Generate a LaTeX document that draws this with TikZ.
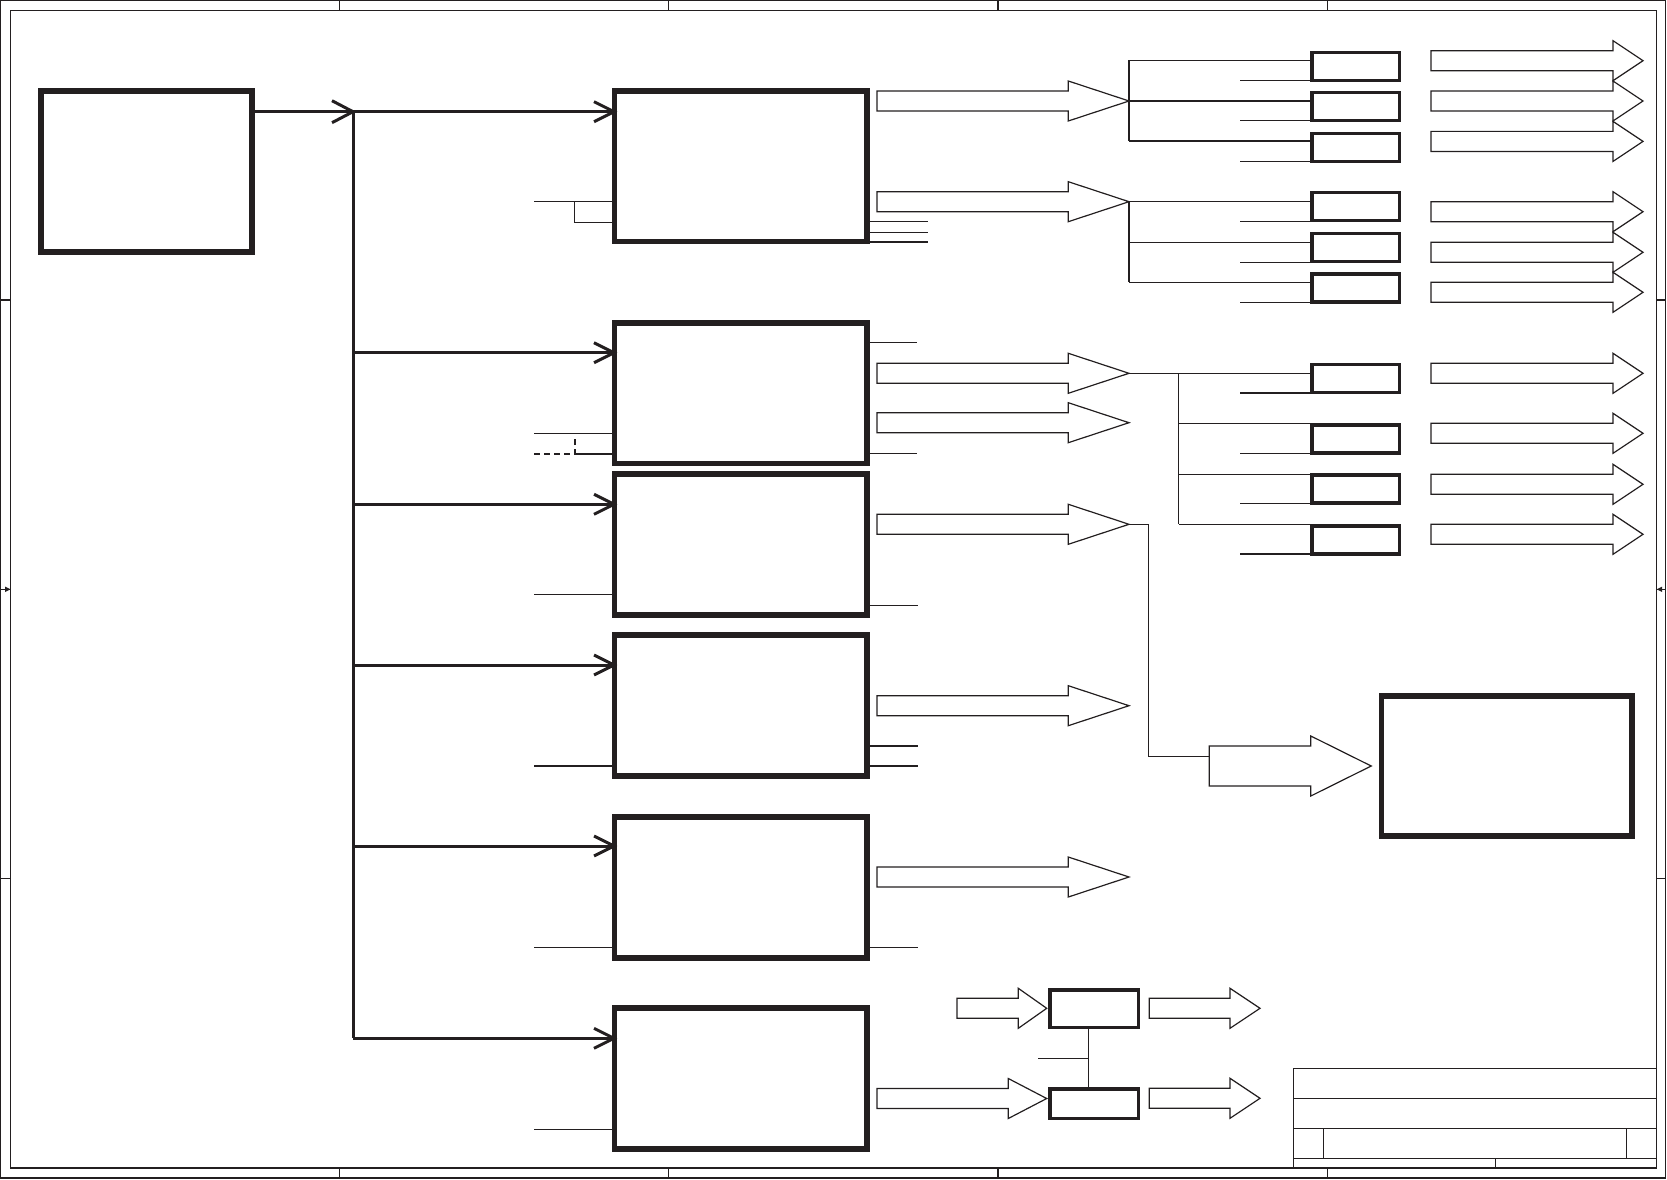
\documentclass[tikz,border=0pt]{standalone}
\usetikzlibrary{calc}
\definecolor{ink}{RGB}{35,31,32}
\newcommand\fatarr[6]{% x0, yc, xhead, xtip, body half, head half
  \draw[fatline] (#1,#2-#5) -- (#3,#2-#5) -- (#3,#2-#6) -- (#4,#2) -- (#3,#2+#6) -- (#3,#2+#5) -- (#1,#2+#5) -- cycle;}
\newcommand\chevr[4]{% tip x, tip y, back, half
  \draw[chevline] (#1-#3,#2-#4) -- (#1,#2) -- (#1-#3,#2+#4);}
\begin{document}
\begin{tikzpicture}[x=1pt,y=-1pt,
  bigbox/.style={draw=ink, line width=5.7pt, rectangle, inner sep=0pt, outer sep=0pt},
  smallbox/.style={draw=ink, line width=3.4pt, rectangle, inner sep=0pt, outer sep=0pt, minimum width=87.5pt, minimum height=28pt},
  wire/.style={draw=ink, line width=1.3pt},
  fatline/.style={draw=ink, line width=1.2pt, line join=miter},
  busline/.style={draw=ink, line width=3pt},
  chevline/.style={draw=ink, line width=3pt, line join=miter},
  frameline/.style={draw=ink, line width=1.2pt}]
\useasboundingbox (0,0) rectangle (1667,1180);

% ---------- sheet frame ----------
\draw[frameline] (0.6,0.6) rectangle (1665.8,1178);
\draw[frameline] (10.5,10.5) rectangle (1656.7,1168);
\foreach \x in {339.3,668.7,998,1327.3}{
  \draw[frameline] (\x,0.6) -- (\x,10.5);
  \draw[frameline] (\x,1168) -- (\x,1178);}
\foreach \y in {299.9,878.7}{
  \draw[frameline] (0.6,\y) -- (10.5,\y);
  \draw[frameline] (1656.7,\y) -- (1665.8,\y);}
\draw[frameline] (0.6,589.3) -- (10.5,589.3);
\fill[ink] (10.5,589.3) -- (5,586.6) -- (5,592) -- cycle;
\draw[frameline] (1656.7,589.3) -- (1665.8,589.3);
\fill[ink] (1656.7,589.3) -- (1662.2,586.6) -- (1662.2,592) -- cycle;

% ---------- title block ----------
\draw[frameline] (1293.3,1168) -- (1293.3,1068.3) -- (1656.7,1068.3);
\foreach \y in {1098.3,1128.3,1158.3}{
  \draw[frameline] (1293.3,\y) -- (1656.7,\y);}
\draw[frameline] (1323.3,1128.3) -- (1323.3,1158.3);
\draw[frameline] (1626.7,1128.3) -- (1626.7,1158.3);
\draw[frameline] (1495.7,1158.3) -- (1495.7,1168);

% ---------- main blocks ----------
\node[bigbox, minimum width=211pt, minimum height=161pt] (M) at (146.5,171.5) {};
\node[bigbox, minimum width=252.3pt, minimum height=150.5pt] (B1) at (740.65,166.25) {};
\node[bigbox, minimum width=252.3pt, minimum height=140.5pt] (B2) at (740.65,393.25) {};
\node[bigbox, minimum width=252.3pt, minimum height=140.7pt] (B3) at (740.65,544.35) {};
\node[bigbox, minimum width=252.3pt, minimum height=140.5pt] (B4) at (740.65,705.55) {};
\node[bigbox, minimum width=252.3pt, minimum height=140.8pt] (B5) at (740.65,887.4) {};
\node[bigbox, minimum width=252.3pt, minimum height=140.6pt] (B6) at (740.65,1078.5) {};
\node[bigbox, minimum width=250.8pt, minimum height=140pt] (R) at (1506.8,766.3) {};

% ---------- bus from M ----------
\coordinate (J) at (353,111.7);
\coordinate (JB) at (353,1038.3);
\draw[busline] (M.east |- J) -- (J -| B1.west);
\chevr{353}{111.7}{21}{11}
\draw[busline] (J) -- (JB);
\foreach \n/\y in {2/352.7,3/504.3,4/665,5/846,6/1038.3}{
  \coordinate (br\n) at (353,\y);
  \draw[busline] (br\n) -- (br\n -| B\n.west);}
\chevr{614}{111.7}{20}{10}
\foreach \y in {352.7,504.3,665,846,1038.3}{\chevr{614}{\y}{20}{10}}

% ---------- left-side inputs ----------
\coordinate (i1a) at (534,201.3);
\coordinate (i1j) at (574.3,201.3);
\coordinate (i1b) at (574.3,222.3);
\draw[wire] (i1a) -- (i1a -| B1.west);
\draw[wire] (i1j) -- (i1b) -- (i1b -| B1.west);
\coordinate (i2a) at (534,433.3);
\coordinate (i2b) at (534,454);
\coordinate (i2j) at (575,454);
\draw[wire] (i2a) -- (i2a -| B2.west);
\draw[wire, dash pattern=on 6pt off 4pt] (i2b) -- (i2j) -- (575,435.5);
\draw[wire] (i2j) -- (i2j -| B2.west);
\foreach \n/\y in {3/594.3,4/766,5/947.3,6/1129.3}{
  \coordinate (in\n) at (534,\y);
  \draw[wire] (in\n) -- (in\n -| B\n.west);}

% ---------- right-side stubs ----------
\foreach \y in {221.5,232.3,242}{
  \coordinate (o) at (927.5,\y);
  \draw[wire] (o -| B1.east) -- (o);}
\foreach \y in {342.3,453.3}{
  \coordinate (o) at (917.3,\y);
  \draw[wire] (o -| B2.east) -- (o);}
\coordinate (o3) at (917.7,605.3);
\draw[wire] (o3 -| B3.east) -- (o3);
\foreach \y in {746,766}{
  \coordinate (o) at (917.7,\y);
  \draw[wire] (o -| B4.east) -- (o);}
\coordinate (o5) at (917.7,947.3);
\draw[wire] (o5 -| B5.east) -- (o5);

% ---------- block arrows from column ----------
\foreach \y in {101,201.7,373.3,422.7,524.3,705.7,877}{\fatarr{877}{\y}{1068.3}{1129}{10}{20}}
\coordinate (a1) at (1129,101);
\coordinate (a2) at (1129,201.7);
\coordinate (a3) at (1129,373.3);
\coordinate (a5) at (1129,524.3);

% ---------- small boxes ----------
\foreach \n/\y in {11/66.4,12/106.4,13/147.4,21/206.7,22/247.4,23/288,31/378.4,32/439,33/489,34/540}{
  \node[smallbox] (S\n) at (1355.75,\y) {};}

% group 1
\coordinate (g1t) at (1129,60.3);
\coordinate (g1b) at (1129,141);
\draw[wire] (g1t) -- (g1b);
\draw[wire] (g1t) -- (g1t -| S11.west);
\draw[wire] (a1) -- (a1 -| S12.west);
\draw[wire] (g1b) -- (g1b -| S13.west);
% group 2
\coordinate (g2m) at (1129,242.3);
\coordinate (g2b) at (1129,282.3);
\draw[wire] (a2) -- (g2b);
\draw[wire] (a2) -- (a2 -| S21.west);
\draw[wire] (g2m) -- (g2m -| S22.west);
\draw[wire] (g2b) -- (g2b -| S23.west);
% group 3
\coordinate (g3t) at (1178.8,373.3);
\coordinate (g3b) at (1178.8,524.3);
\draw[wire] (a3) -- (a3 -| S31.west);
\draw[wire] (g3t) -- (g3b);
\foreach \n/\y in {32/423.3,33/474.3,34/524.3}{
  \coordinate (g) at (1178.8,\y);
  \draw[wire] (g) -- (g -| S\n.west);}
% lower short lines
\foreach \n/\y in {11/80.4,12/120.6,13/161.2,21/221.8,22/262.2,23/302.2,31/393,32/453.3,33/503.8,34/554}{
  \coordinate (l) at (1240,\y);
  \draw[wire] (l) -- (l -| S\n.west);}

% output arrows on right
\foreach \y in {60.7,101,141.4,211.7,252.3,292.3,373.3,433.3,484.3,534.3}{\fatarr{1431}{\y}{1613}{1643}{10}{20}}

% ---------- route to big box ----------
\coordinate (k1) at (1148.8,524.3);
\coordinate (k2) at (1148.8,756.7);
\coordinate (k3) at (1209.2,756.7);
\draw[wire] (a5) -- (k1) -- (k2) -- (k3);
\fatarr{1209.2}{766}{1310.8}{1371.2}{20}{30}

% ---------- bottom pair ----------
\node[smallbox, minimum width=88.3pt, minimum height=37.6pt] (P) at (1094.15,1008.8) {};
\node[smallbox, minimum width=88.3pt, minimum height=29.3pt] (Q) at (1094.15,1103.65) {};
\coordinate (pq) at (1088.3,1058.3);
\coordinate (st) at (1038.3,1058.3);
\draw[wire] (pq |- P.south) -- (pq |- Q.north);
\draw[wire] (st) -- (pq);
\fatarr{957}{1008.3}{1018.3}{1046.7}{10}{20}
\fatarr{877}{1098.5}{1008.3}{1046.7}{10}{20}
\fatarr{1149.3}{1008.3}{1230}{1260}{10}{20}
\fatarr{1149.3}{1098.3}{1230}{1260}{10}{20}
\end{tikzpicture}
\end{document}
